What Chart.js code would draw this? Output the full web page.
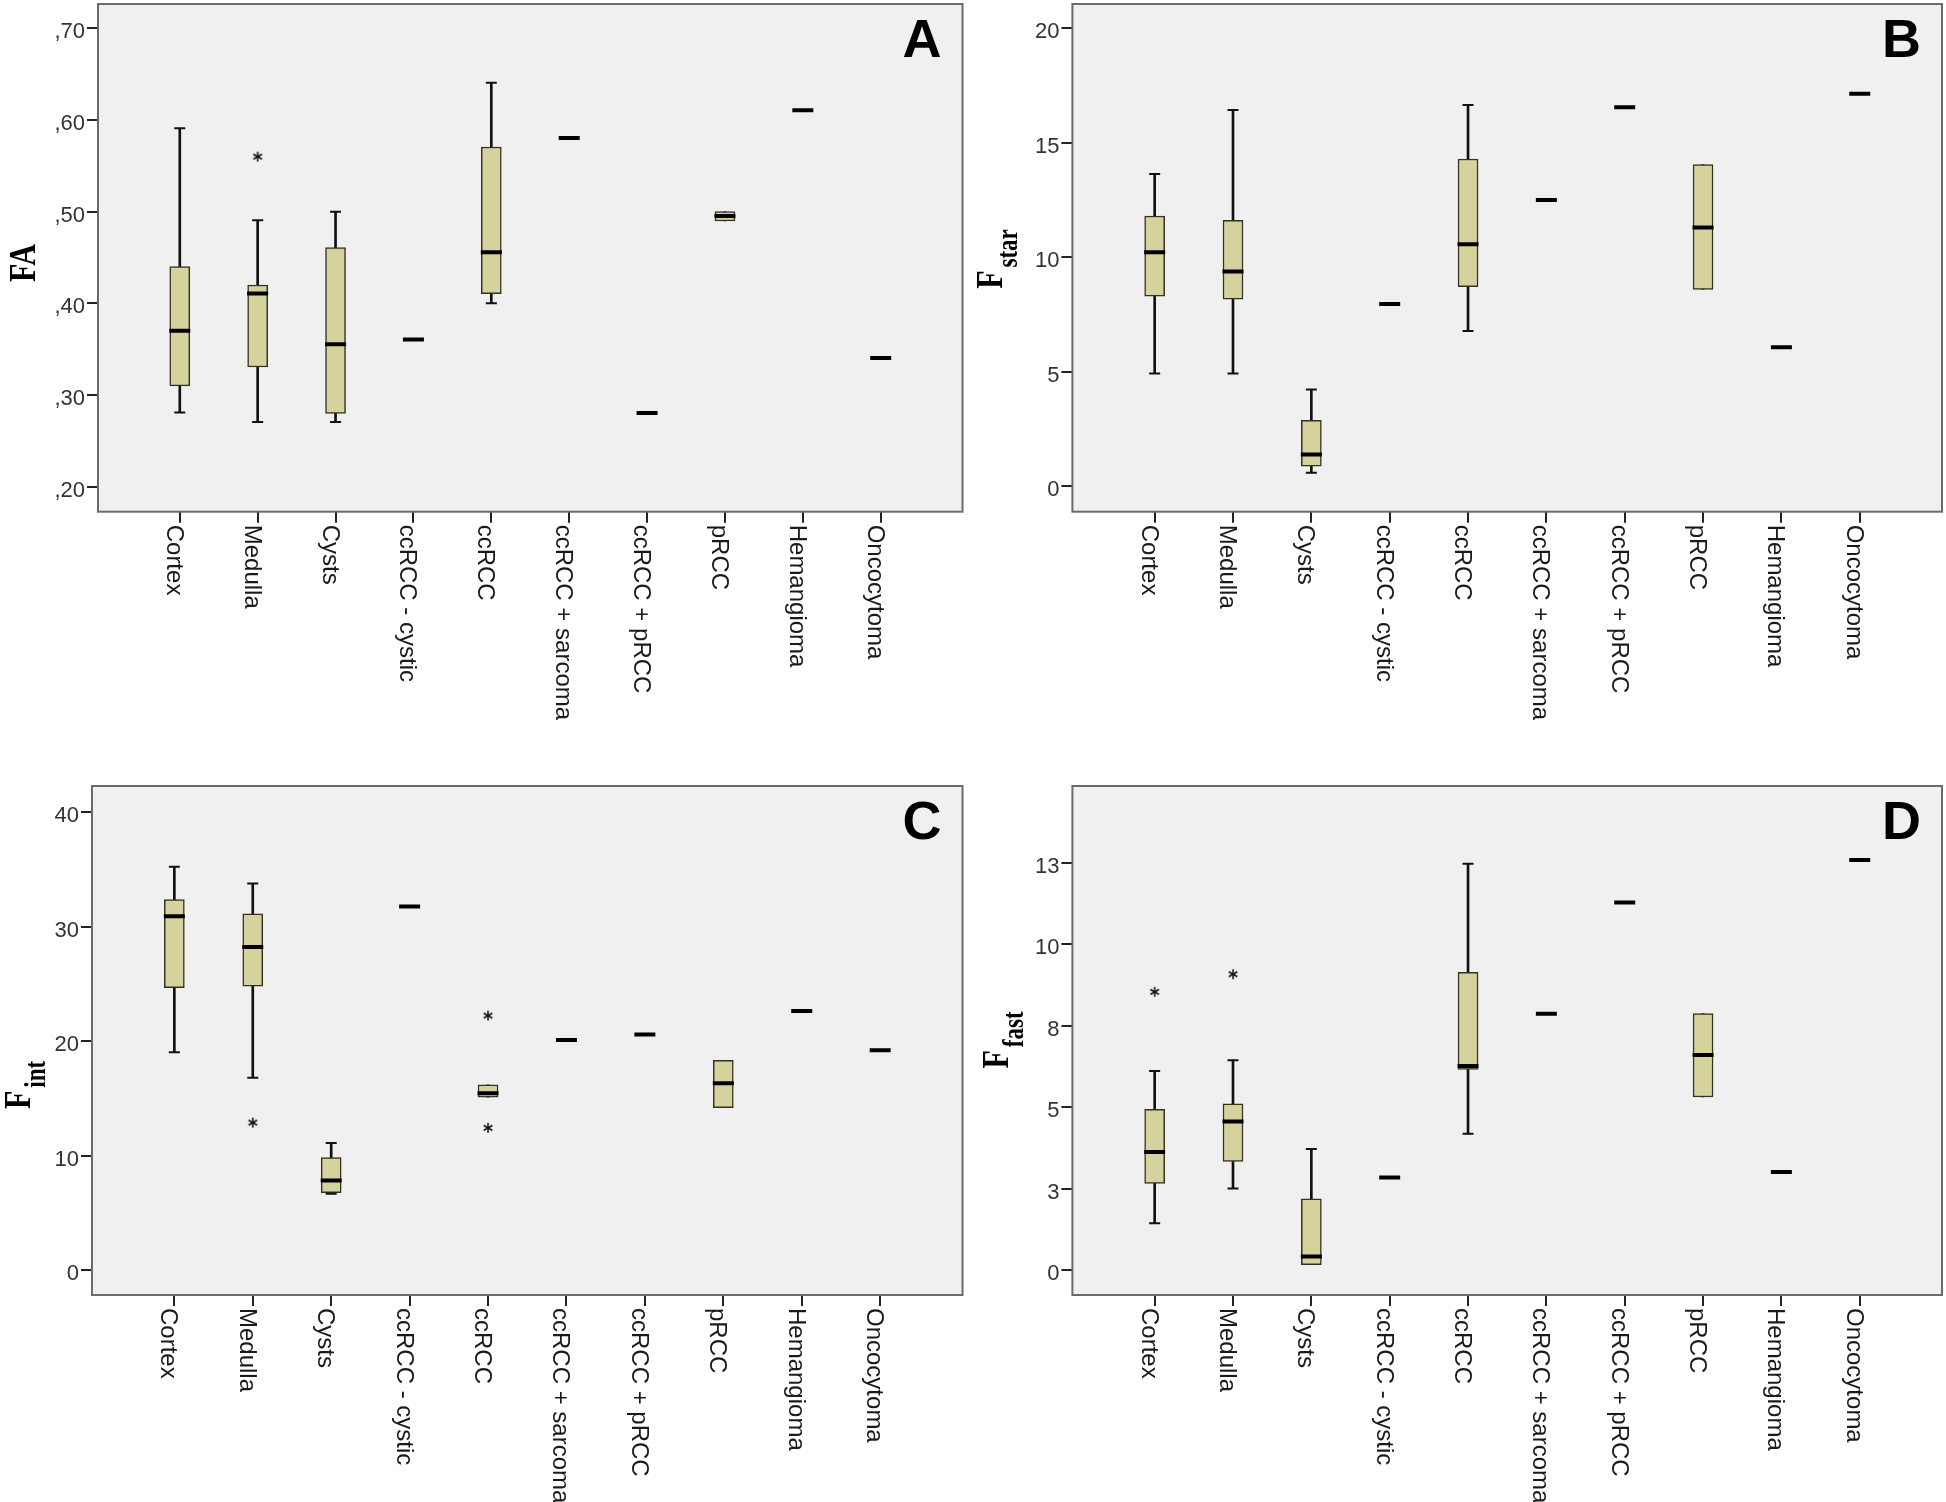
<!DOCTYPE html>
<html>
<head>
<meta charset="utf-8">
<script src="https://cdn.jsdelivr.net/npm/chart.js@4.4.1/dist/chart.umd.min.js"></script>
<style>
  html, body { margin: 0; padding: 0; background: #fff; }
  #wrap { position: relative; width: 1946px; height: 1502px; overflow: hidden; }
  canvas { position: absolute; }
</style>
</head>
<body>
<div id="wrap">
  <canvas id="chartA" width="970" height="770" style="left:0;top:0"></canvas>
  <canvas id="chartB" width="976" height="770" style="left:970px;top:0"></canvas>
  <canvas id="chartC" width="970" height="732" style="left:0;top:770px"></canvas>
  <canvas id="chartD" width="976" height="732" style="left:970px;top:770px"></canvas>
</div>
<script>
// categorias del eje x
const categorias = ["Cortex", "Medulla", "Cysts", "ccRCC - cystic", "ccRCC", "ccRCC + sarcoma", "ccRCC + pRCC", "pRCC", "Hemangioma", "Oncocytoma"];

// A - FA
const faMin = [0.281, 0.2705, 0.2705, 0.3604, 0.400, 0.5804, 0.2804, 0.4898, 0.6105, 0.3404];
const faQ1 = [0.310, 0.3305, 0.280, 0.3604, 0.4105, 0.5804, 0.2804, 0.4898, 0.6105, 0.3404];
const faMed = [0.370, 0.4106, 0.3553, 0.3604, 0.4556, 0.5804, 0.2804, 0.4953, 0.6105, 0.3404];
const faQ3 = [0.440, 0.420, 0.4607, 0.3604, 0.5705, 0.5804, 0.2804, 0.500, 0.6105, 0.3404];
const faMax = [0.591, 0.4905, 0.500, 0.3604, 0.6407, 0.5804, 0.2804, 0.500, 0.6105, 0.3404];
const faOutCat = [1];
const faOutVal = [0.560];
const faTicks = [0.2, 0.3, 0.4, 0.5, 0.6, 0.7];
const faTickLabels = [",20", ",30", ",40", ",50", ",60", ",70"];

// B - Fstar
const fstarMin = [4.92, 4.92, 0.58, 7.95, 6.77, 12.5, 16.55, 8.59, 6.06, 17.14];
const fstarQ1 = [8.30, 8.16, 0.87, 7.95, 8.71, 12.5, 16.55, 8.59, 6.06, 17.14];
const fstarMed = [10.21, 9.37, 1.38, 7.95, 10.56, 12.5, 16.55, 11.30, 6.06, 17.14];
const fstarQ3 = [11.80, 11.61, 2.87, 7.95, 14.29, 12.5, 16.55, 14.04, 6.06, 17.14];
const fstarMax = [13.63, 16.43, 4.22, 7.95, 16.65, 12.5, 16.55, 14.04, 6.06, 17.14];
const fstarOutCat = [];
const fstarOutVal = [];
const fstarTicks = [0, 5, 10, 15, 20];
const fstarTickLabels = ["0", "5", "10", "15", "20"];

// C - Fint
const fintMin = [19.03, 16.81, 6.65, 31.76, 15.10, 20.10, 20.57, 14.19, 22.64, 19.20];
const fintQ1 = [24.68, 24.80, 6.75, 31.76, 15.10, 20.10, 20.57, 14.19, 22.64, 19.20];
const fintMed = [30.91, 28.23, 7.81, 31.76, 15.44, 20.10, 20.57, 16.32, 22.64, 19.20];
const fintQ3 = [32.37, 31.12, 9.82, 31.76, 16.17, 20.10, 20.57, 18.33, 22.64, 19.20];
const fintMax = [35.25, 33.77, 11.10, 31.76, 16.17, 20.10, 20.57, 18.33, 22.64, 19.20];
const fintOutCat = [1, 4, 4];
const fintOutVal = [12.88, 22.23, 12.42];
const fintTicks = [0, 10, 20, 30, 40];
const fintTickLabels = ["0", "10", "20", "30", "40"];

// D - Ffast
const ffastMin = [1.43, 2.50, 0.16, 2.84, 4.18, 7.87, 11.28, 5.31, 3.01, 12.59];
const ffastQ1 = [2.66, 3.33, 0.16, 2.84, 6.16, 7.87, 11.28, 5.31, 3.01, 12.59];
const ffastMed = [3.62, 4.56, 0.41, 2.84, 6.26, 7.87, 11.28, 6.60, 3.01, 12.59];
const ffastQ3 = [4.93, 5.10, 2.18, 2.84, 9.14, 7.87, 11.28, 7.87, 3.01, 12.59];
const ffastMax = [6.11, 6.44, 3.71, 2.84, 12.47, 7.87, 11.28, 7.87, 3.01, 12.59];
const ffastOutCat = [0, 1];
const ffastOutVal = [8.54, 9.08];
const ffastTicks = [0, 2.5, 5, 7.5, 10, 12.5];
const ffastTickLabels = ["0", "3", "5", "8", "10", "13"];

// asterisco para valores extremos
const asterisco = document.createElement("canvas");
asterisco.width = 12;
asterisco.height = 12;
(() => {
  const c = asterisco.getContext("2d");
  c.strokeStyle = "#111";
  c.lineWidth = 1.5;
  for (let k = 0; k < 3; k++) {
    const ang = Math.PI / 2 + (k * Math.PI) / 3;
    c.beginPath();
    c.moveTo(6 - 5 * Math.cos(ang), 6 - 5 * Math.sin(ang));
    c.lineTo(6 + 5 * Math.cos(ang), 6 + 5 * Math.sin(ang));
    c.stroke();
  }
})();

// fija el area del grafico, fondo, marco, letra, etiquetas x y titulo del eje y
const decorado = {
  id: "decorado",
  afterLayout(chart, args, opts) {
    const r = opts.area;
    const a = chart.chartArea;
    a.left = r.left;
    a.top = r.top;
    a.right = r.right;
    a.bottom = r.bottom;
    a.width = r.right - r.left;
    a.height = r.bottom - r.top;
    const x = chart.scales.x;
    const y = chart.scales.y;
    x.left = r.left;
    x.right = r.right;
    x.width = r.right - r.left;
    x.top = r.bottom;
    x.bottom = r.bottom + x.height;
    x.configure();
    y.top = r.top;
    y.bottom = r.bottom;
    y.height = r.bottom - r.top;
    y.right = r.left;
    y.left = 0;
    y.width = r.left;
    y.configure();
  },
  beforeDraw(chart) {
    const { ctx, chartArea: a } = chart;
    ctx.save();
    ctx.fillStyle = "#f0f0f0";
    ctx.fillRect(a.left, a.top, a.right - a.left, a.bottom - a.top);
    ctx.restore();
  },
  afterDraw(chart, args, opts) {
    const { ctx, chartArea: a } = chart;
    const ejeX = chart.scales.x;
    ctx.save();
    ctx.strokeStyle = "#6b6b6b";
    ctx.lineWidth = 2;
    ctx.strokeRect(a.left, a.top, a.right - a.left, a.bottom - a.top);

    ctx.fillStyle = "#000";
    ctx.font = "bold 54px 'Liberation Sans', Arial, sans-serif";
    ctx.textAlign = "right";
    ctx.textBaseline = "alphabetic";
    ctx.fillText(opts.letra, a.right - 21, a.top + 53);

    ctx.font = "24px 'Liberation Sans', Arial, sans-serif";
    ctx.fillStyle = "#1a1a1a";
    ctx.textAlign = "left";
    categorias.forEach((c, i) => {
      const px = ejeX.getPixelForValue(i);
      ctx.save();
      ctx.translate(px, a.bottom + 13);
      ctx.rotate(Math.PI / 2);
      ctx.fillText(c, 0, 13);
      ctx.restore();
    });

    // titulo del eje y, con subindice
    ctx.save();
    ctx.translate(opts.tx, opts.ty);
    ctx.rotate(-Math.PI / 2);
    ctx.scale(1, 1.28);
    ctx.fillStyle = "#000";
    ctx.textAlign = "left";
    const fPrincipal = "bold 30px 'Liberation Serif', 'Times New Roman', serif";
    const fSub = "bold 23px 'Liberation Serif', 'Times New Roman', serif";
    ctx.font = fPrincipal;
    const w1 = ctx.measureText(opts.titulo).width;
    let w2 = 0;
    if (opts.sub) {
      ctx.font = fSub;
      w2 = ctx.measureText(opts.sub).width + 3;
    }
    const x0 = -(w1 + w2) / 2;
    ctx.font = fPrincipal;
    ctx.fillText(opts.titulo, x0, 0);
    if (opts.sub) {
      ctx.font = fSub;
      ctx.fillText(opts.sub, x0 + w1 + 3, 11.5);
    }
    ctx.restore();
    ctx.restore();
  },
};

// crea un panel de cajas
function crearPanel(id, p) {
  const cajas = categorias.map((c, i) => ({ x: i, y: [p.q1[i], p.q3[i]] }));
  const bigoteInf = categorias.map((c, i) => ({ x: i, y: [p.min[i], p.q1[i]] }));
  const bigoteSup = categorias.map((c, i) => ({ x: i, y: [p.q3[i], p.max[i]] }));
  const topes = [];
  categorias.forEach((c, i) => {
    if (p.min[i] < p.q1[i]) topes.push({ x: i, y: p.min[i] });
    if (p.max[i] > p.q3[i]) topes.push({ x: i, y: p.max[i] });
  });
  const medianas = categorias.map((c, i) => ({ x: i, y: p.med[i] }));
  const extremos = p.outCat.map((c, k) => ({ x: c, y: p.outVal[k] }));

  new Chart(document.getElementById(id), {
    type: "bar",
    data: {
      datasets: [
        { data: bigoteInf, backgroundColor: "#111", barThickness: 2, grouped: false, order: 5 },
        { data: bigoteSup, backgroundColor: "#111", barThickness: 2, grouped: false, order: 5 },
        {
          data: cajas,
          backgroundColor: "#d6d29e",
          borderColor: "#34321f",
          borderWidth: 1.5,
          borderSkipped: false,
          barThickness: 20,
          grouped: false,
          order: 4,
        },
        {
          type: "scatter",
          data: topes,
          pointStyle: "line",
          pointRadius: 5.5,
          borderWidth: 2,
          borderColor: "#111",
          order: 2,
        },
        {
          type: "scatter",
          data: medianas,
          pointStyle: "line",
          pointRadius: 10.5,
          borderWidth: 4,
          borderColor: "#000",
          order: 1,
        },
        {
          type: "scatter",
          data: extremos,
          pointStyle: asterisco,
          pointRadius: 6,
          order: 0,
        },
      ],
    },
    options: {
      responsive: false,
      animation: false,
      devicePixelRatio: 1,
      layout: { padding: { left: 0, top: p.area.top, right: p.ancho - p.area.right, bottom: 0 } },
      plugins: {
        legend: { display: false },
        tooltip: { enabled: false },
        decorado: { letra: p.letra, titulo: p.titulo, sub: p.sub, tx: p.tx, ty: p.ty, area: p.area },
      },
      scales: {
        x: {
          type: "linear",
          min: -1.05,
          max: 10.05,
          offset: false,
          afterBuildTicks: (s) => {
            s.ticks = categorias.map((c, i) => ({ value: i }));
          },
          afterFit: (s) => {
            s.height = p.alto - p.area.bottom;
          },
          ticks: { display: false },
          grid: { offset: false, drawOnChartArea: false, drawTicks: true, tickLength: 11, color: "#222", lineWidth: 2 },
          border: { display: false },
        },
        y: {
          type: "linear",
          min: p.yMin,
          max: p.yMax,
          beginAtZero: false,
          afterBuildTicks: (s) => {
            s.ticks = p.ticks.map((v) => ({ value: v }));
          },
          afterFit: (s) => {
            s.width = p.area.left;
          },
          ticks: {
            callback: (v, i) => p.tickLabels[i],
            font: { family: "'Liberation Sans', Arial, sans-serif", size: 22 },
            color: "#333",
            padding: 2,
            labelOffset: 4,
          },
          grid: { drawOnChartArea: false, drawTicks: true, tickLength: 11, color: "#222", lineWidth: 2 },
          border: { display: false },
        },
      },
    },
    plugins: [decorado],
  });
}

crearPanel("chartA", {
  min: faMin, q1: faQ1, med: faMed, q3: faQ3, max: faMax,
  outCat: faOutCat, outVal: faOutVal, ticks: faTicks, tickLabels: faTickLabels,
  yMin: 0.1727, yMax: 0.7265, letra: "A", titulo: "FA", sub: "", tx: 35, ty: 263,
  ancho: 970, alto: 770, area: { left: 98, top: 4, right: 962.5, bottom: 511.7 },
});
crearPanel("chartB", {
  min: fstarMin, q1: fstarQ1, med: fstarMed, q3: fstarQ3, max: fstarMax,
  outCat: fstarOutCat, outVal: fstarOutVal, ticks: fstarTicks, tickLabels: fstarTickLabels,
  yMin: -1.12, yMax: 21.06, letra: "B", titulo: "F", sub: "star", tx: 32, ty: 259,
  ancho: 976, alto: 770, area: { left: 102.4, top: 4, right: 972, bottom: 511.7 },
});
crearPanel("chartC", {
  min: fintMin, q1: fintQ1, med: fintMed, q3: fintQ3, max: fintMax,
  outCat: fintOutCat, outVal: fintOutVal, ticks: fintTicks, tickLabels: fintTickLabels,
  yMin: -2.19, yMax: 42.3, letra: "C", titulo: "F", sub: "int", tx: 30, ty: 315,
  ancho: 970, alto: 732, area: { left: 92, top: 16, right: 962.5, bottom: 525 },
});
crearPanel("chartD", {
  min: ffastMin, q1: ffastQ1, med: ffastMed, q3: ffastQ3, max: ffastMax,
  outCat: ffastOutCat, outVal: ffastOutVal, ticks: ffastTicks, tickLabels: ffastTickLabels,
  yMin: -0.77, yMax: 14.86, letra: "D", titulo: "F", sub: "fast", tx: 38, ty: 270,
  ancho: 976, alto: 732, area: { left: 102.4, top: 16, right: 972, bottom: 525 },
});
</script>
</body>
</html>
